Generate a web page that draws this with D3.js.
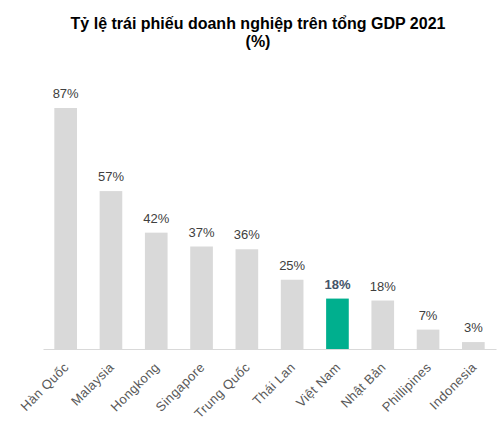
<!DOCTYPE html>
<html>
<head>
<meta charset="utf-8">
<script src="https://cdn.jsdelivr.net/npm/d3@7"></script>
<style>
  body { margin: 0; background: #fff; }
  text { font-family: "Liberation Sans", Arial, sans-serif; }
</style>
</head>
<body>
<svg id="chart"></svg>
<script>
const countries = ['Hàn Quốc', 'Malaysia', 'Hongkong', 'Singapore', 'Trung Quốc',
                   'Thái Lan', 'Việt Nam', 'Nhật Bản', 'Phillipines', 'Indonesia']
const values = [87, 57, 42, 37, 36, 25, 18.2, 17.5, 7, 2.5]
const highlight = 'Việt Nam'

const width = 503, height = 427
const margin = { top: 60, bottom: 78, left: 43, right: 7 }

const svg = d3.select('#chart')
              .attr('width', width)
              .attr('height', height)

// title
const title = svg.append('text')
                 .attr('x', 258)
                 .attr('y', 29)
                 .attr('text-anchor', 'middle')
                 .style('font-size', '16px')
                 .style('font-weight', 'bold')
                 .style('fill', '#000')
title.append('tspan').attr('x', 258).text('Tỷ lệ trái phiếu doanh nghiệp trên tổng GDP 2021')
title.append('tspan').attr('x', 258).attr('dy', 18).text('(%)')

const x = d3.scaleBand()
            .domain(countries)
            .range([margin.left, width - margin.right])
            .paddingInner(0.5)
            .paddingOuter(0.25)

const y = d3.scaleLinear()
            .domain([0, 87])
            .range([height - margin.bottom, 108])

const data = countries.map((c, i) => ({ name: c, value: values[i] }))

// bars
svg.selectAll('.bar')
   .data(data)
   .enter().append('rect')
   .attr('class', 'bar')
   .attr('x', d => x(d.name))
   .attr('width', x.bandwidth())
   .attr('y', d => y(d.value))
   .attr('height', d => y(0) - y(d.value))
   .attr('fill', d => d.name == highlight ? '#00AF8E' : '#D9D9D9')

// value labels
svg.selectAll('.val')
   .data(data)
   .enter().append('text')
   .attr('class', 'val')
   .attr('x', d => x(d.name) + x.bandwidth() / 2)
   .attr('y', d => y(d.value) - 10)
   .attr('text-anchor', 'middle')
   .style('font-size', '13px')
   .style('font-weight', d => d.name == highlight ? 'bold' : 'normal')
   .style('fill', d => d.name == highlight ? '#44546A' : '#404040')
   .text(d => Math.round(d.value) + '%')

// x axis
const xAxis = svg.append('g')
                 .attr('transform', `translate(0, ${y(0)})`)
                 .call(d3.axisBottom(x).tickSize(0).tickSizeOuter(0))
xAxis.select('.domain').attr('stroke', '#D9D9D9').attr('stroke-width', 1)
xAxis.selectAll('text')
     .attr('text-anchor', 'end')
     .attr('dy', null)
     .attr('y', 0)
     .attr('transform', 'translate(4, 19) rotate(-45)')
     .style('font-size', '13px')
     .style('letter-spacing', '0.4px')
     .style('font-family', '"Liberation Sans", Arial, sans-serif')
     .style('fill', '#595959')
</script>
</body>
</html>
